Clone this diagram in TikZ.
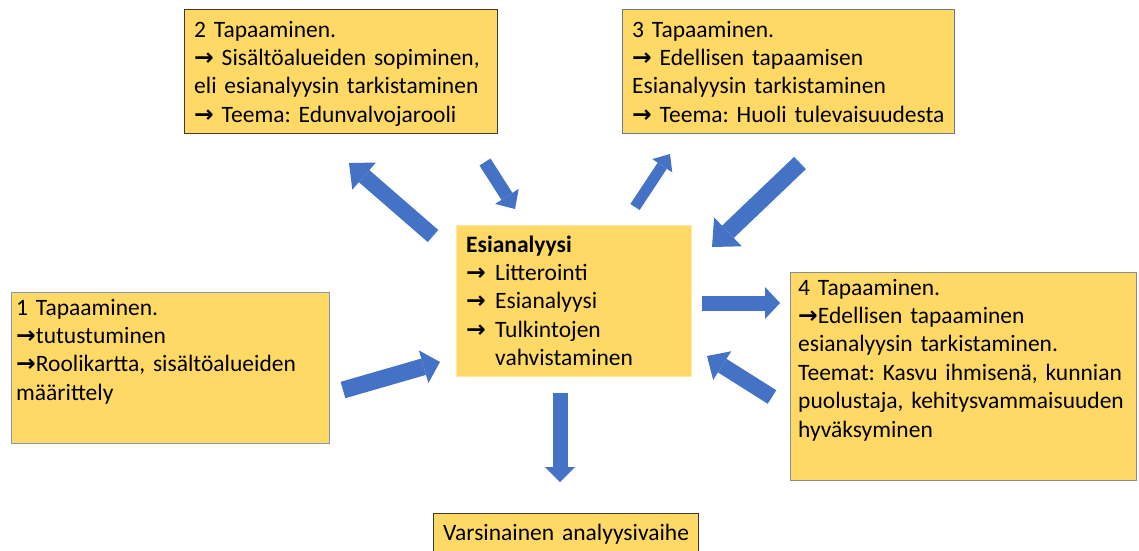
\documentclass[tikz,border=0pt]{standalone}
\usepackage{fontspec}
\setmainfont{Carlito}
\newfontfamily\nuolifont{DejaVu Sans Bold}
\newcommand{\nuoli}{{\nuolifont →}}
\frenchspacing
\usetikzlibrary{arrows.meta}

\definecolor{keltainen}{HTML}{FFD966}
\definecolor{sininen}{HTML}{4472C4}
\definecolor{tumma}{HTML}{3A3A3A}
\definecolor{harmaa}{HTML}{8C8C8C}
\definecolor{siniharmaa}{HTML}{8497B0}

\begin{document}
\begin{tikzpicture}[x=1pt, y=-1pt,
  laatikko/.style={draw=#1, fill=keltainen, line width=1pt, anchor=north west, inner sep=0pt},
  laatikko/.default=tumma,
  teksti/.style={anchor=base west, inner sep=0pt, align=left, text width=340pt,
    font=\fontsize{23.5}{28.4}\selectfont},
  nuoli/.style n args={3}{draw=sininen, line width=#1,
    -{Triangle[width=#2, length=#3, line width=0pt]}}]
\useasboundingbox (0,0) rectangle (1139,550);

% laatikot
\node[laatikko, minimum width=313pt, minimum height=124pt] (tap2) at (184,9) {};
\node[laatikko=siniharmaa!80!black, minimum width=332pt, minimum height=124pt] (tap3) at (622,9) {};
\node[laatikko=keltainen!60!white, minimum width=235pt, minimum height=151pt] (esi) at (456,225) {};
\node[laatikko=siniharmaa, minimum width=318pt, minimum height=151pt] (tap1) at (11,292) {};
\node[laatikko=harmaa, minimum width=346pt, minimum height=208pt] (tap4) at (790,272) {};
\node[laatikko, minimum width=265pt, minimum height=50pt] (varsinainen) at (433,513) {};

% tekstit
\node[teksti] (tap2txt) at (194,37) {2 Tapaaminen.\\
  \nuoli\ Sisältöalueiden sopiminen,\\
  eli esianalyysin tarkistaminen\\
  \nuoli\ Teema: Edunvalvojarooli};
\node[teksti] (tap3txt) at (632,37) {3 Tapaaminen.\\
  \nuoli\ Edellisen tapaamisen\\
  Esianalyysin tarkistaminen\\
  \nuoli\ Teema: Huoli tulevaisuudesta};
\node[teksti] (esitxt) at (466,252) {\textbf{Esianalyysi}\\
  \makebox[29pt][l]{\nuoli}Litterointi\\
  \makebox[29pt][l]{\nuoli}Esianalyysi\\
  \makebox[29pt][l]{\nuoli}Tulkintojen\\
  \hspace*{29pt}vahvistaminen};
\node[teksti] (tap1txt) at (16,315) {1 Tapaaminen.\\
  \nuoli tutustuminen\\
  \nuoli Roolikartta, sisältöalueiden\\
  määrittely};
\node[teksti] (tap4txt) at (798,295) {4 Tapaaminen.\\
  \nuoli Edellisen tapaaminen\\
  esianalyysin tarkistaminen.\\
  Teemat: Kasvu ihmisenä, kunnian\\
  puolustaja, kehitysvammaisuuden\\
  hyväksyminen};
\node[teksti] (varsinainentxt) at (443,540) {Varsinainen analyysivaihe};

% nuolet
\coordinate (n1a) at (433,236); \coordinate (n1b) at (349,163);
\coordinate (n2a) at (485,162); \coordinate (n2b) at (515,209);
\coordinate (n3a) at (635,207); \coordinate (n3b) at (670,154);
\coordinate (n4a) at (800,163); \coordinate (n4b) at (712,247);
\coordinate (n5a) at (702,303); \coordinate (n5b) at (780,303);
\coordinate (n6a) at (772,397); \coordinate (n6b) at (707,356);
\coordinate (n7a) at (343,390); \coordinate (n7b) at (440,362);
\coordinate (n8a) at (560,393); \coordinate (n8b) at (560,482);

\draw[nuoli={16pt}{36pt}{20pt}] (n1a) -- (n1b);
\draw[nuoli={13pt}{28pt}{15pt}] (n2a) -- (n2b);
\draw[nuoli={11pt}{24pt}{14pt}] (n3a) -- (n3b);
\draw[nuoli={17pt}{40pt}{22pt}] (n4a) -- (n4b);
\draw[nuoli={15pt}{32pt}{15pt}] (n5a) -- (n5b);
\draw[nuoli={16pt}{34pt}{18pt}] (n6a) -- (n6b);
\draw[nuoli={17pt}{34pt}{17pt}] (n7a) -- (n7b);
\draw[nuoli={15pt}{30pt}{15pt}] (n8a) -- (n8b);
\end{tikzpicture}
\end{document}
